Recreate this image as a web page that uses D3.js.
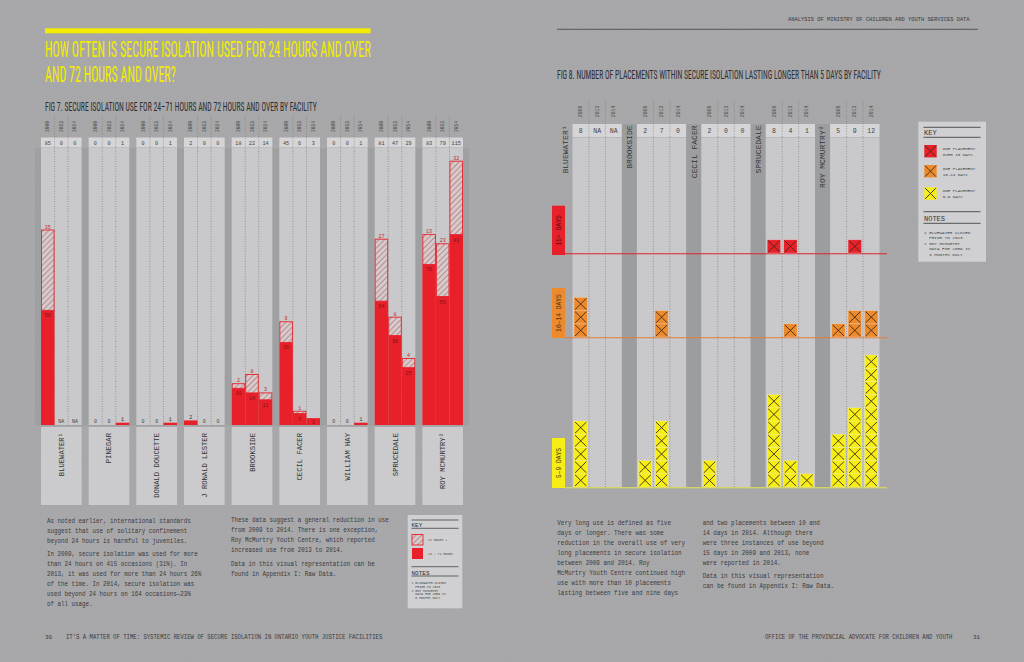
<!DOCTYPE html>
<html><head><meta charset="utf-8">
<script src="https://cdn.jsdelivr.net/npm/d3@7"></script>
<style>html,body{margin:0;padding:0;background:#a6a6a8;}svg{display:block}</style>
</head><body>
<script>
// ---------- DATA ----------
const years = ["2009", "2013", "2014"];
const leftFacilities = ["BLUEWATER¹", "PINEGAR", "DONALD DOUCETTE", "J RONALD LESTER", "BROOKSIDE", "CECIL FACER", "WILLIAM HAY", "SPRUCEDALE", "ROY MCMURTRY²"];
const leftTotals = [["85","0","0"],["0","0","1"],["0","0","1"],["2","0","0"],["18","22","14"],["45","6","3"],["0","0","1"],["81","47","29"],["83","79","115"]];
const hours24to71 = [[50,null,null],[0,0,1],[0,0,1],[2,0,0],[16,14,11],[36,5,3],[0,0,1],[54,39,25],[70,56,83]];
const hours72plus = [[35,null,null],[0,0,0],[0,0,0],[0,0,0],[2,8,3],[9,1,0],[0,0,0],[27,8,4],[13,23,32]];

const rightFacilities = ["BLUEWATER¹", "BROOKSIDE", "CECIL FACER", "SPRUCEDALE", "ROY MCMURTRY²"];
const rightTotals = [["8","NA","NA"],["2","7","0"],["2","0","0"],["8","4","1"],["5","9","12"]];
const over15Days = [[0,0,0],[0,0,0],[0,0,0],[1,1,0],[0,1,0]];
const days10to14 = [[3,0,0],[0,2,0],[0,0,0],[0,1,0],[1,2,2]];
const days5to9 = [[5,0,0],[2,5,0],[2,0,0],[7,2,1],[4,6,10]];

const paraLeft1a = ["As noted earlier, international standards","suggest that use of solitary confinement","beyond 24 hours is harmful to juveniles."];
const paraLeft1b = ["In 2009, secure isolation was used for more","than 24 hours on 415 occasions (31%). In","2013, it was used for more than 24 hours 26%","of the time. In 2014, secure isolation was","used beyond 24 hours on 164 occasions—23%","of all usage."];
const paraLeft2a = ["These data suggest a general reduction in use","from 2009 to 2014. There is one exception,","Roy McMurtry Youth Centre, which reported","increased use from 2013 to 2014."];
const paraLeft2b = ["Data in this visual representation can be","found in Appendix I: Raw Data."];
const paraRight1 = ["Very long use is defined as five","days or longer. There was some","reduction in the overall use of very","long placements in secure isolation","between 2009 and 2014. Roy","McMurtry Youth Centre continued high","use with more than 10 placements","lasting between five and nine days"];
const paraRight2a = ["and two placements between 10 and","14 days in 2014. Although there","were three instances of use beyond","15 days in 2009 and 2013, none","were reported in 2014."];
const paraRight2b = ["Data in this visual representation","can be found in Appendix I: Raw Data."];
const notesLines = ["1 BLUEWATER CLOSED","  PRIOR TO 2013","2 ROY MCMURTRY","  DATA FOR 2009 IS","  8 MONTHS ONLY"];

// ---------- SETUP ----------
const W = 1024, H = 662;
const MONO = "'Liberation Mono','DejaVu Sans Mono',monospace";
const COND = "'Liberation Sans Narrow','Roboto Condensed','DejaVu Sans Condensed','Liberation Sans',sans-serif";
const TXT = "#3a3a3c";
const RED = "#e8202a", ORANGE = "#ee8a2e", YELLOW = "#f6ee14";

const svg = d3.select("body").append("svg").attr("width", W).attr("height", H);
const defs = svg.append("defs");
const f = defs.append("filter").attr("id","noise").attr("x",0).attr("y",0).attr("width","100%").attr("height","100%");
f.append("feTurbulence").attr("type","fractalNoise").attr("baseFrequency",0.8).attr("numOctaves",2).attr("seed",3);
f.append("feColorMatrix").attr("type","matrix").attr("values","0 0 0 0 0.5  0 0 0 0 0.5  0 0 0 0 0.5  0 0 0 0.9 -0.35");
const pat = defs.append("pattern").attr("id","hatch").attr("patternUnits","userSpaceOnUse").attr("width",4).attr("height",4).attr("patternTransform","rotate(45)");
pat.append("rect").attr("width",4).attr("height",4).attr("fill","#d6cacc");
pat.append("line").attr("x1",0).attr("y1",0).attr("x2",0).attr("y2",4).attr("stroke","#a86d70").attr("stroke-width",1.3);

svg.append("rect").attr("width",W).attr("height",H).attr("fill","#a7a7a9");
svg.append("rect").attr("width",W).attr("height",H).attr("filter","url(#noise)").attr("opacity",0.3);

function lines(x, y0, lh, arr, fs, sx, fill, weight) {
  const g = svg.append("g").attr("transform", `translate(${x},0) scale(${sx},1)`);
  g.selectAll(null).data(arr).join("text")
    .attr("x", 0).attr("y", (d, i) => y0 + i * lh)
    .attr("font-family", MONO).attr("font-size", fs).attr("fill", fill || TXT)
    .attr("font-weight", weight || "normal")
    .attr("xml:space","preserve").style("white-space","pre")
    .text(d => d);
}
// fit a line of text to a given width by horizontal scaling
function fitText(x, y, str, len, fs, family, fill) {
  const g = svg.append("g");
  const t = g.append("text").attr("x", 0).attr("y", 0).attr("font-family", family).attr("font-size", fs)
    .attr("fill", fill).text(str);
  const nat = t.node().getComputedTextLength() || len;
  g.attr("transform", `translate(${x},${y}) scale(${len / nat},1)`);
  return t;
}

// ---------- LEFT PAGE ----------
svg.append("rect").attr("x",45).attr("y",28.3).attr("width",325.5).attr("height",5).attr("fill","#f3ec00");
fitText(45, 56.5, "HOW OFTEN IS SECURE ISOLATION USED FOR 24 HOURS AND OVER", 326, 21.5, COND, "#f3ec00");
fitText(45, 81.5, "AND 72 HOURS AND OVER?", 131, 21.5, COND, "#f3ec00");
fitText(45, 110.8, "FIG 7. SECURE ISOLATION USE FOR 24–71 HOURS AND 72 HOURS AND OVER BY FACILITY", 272, 12.5, COND, "#2e2e30");

const xF = d3.scaleBand().domain(leftFacilities).range([41, 463]).paddingInner(0.147);
const xY = d3.scaleBand().domain(years).range([0, xF.bandwidth()]);
const y = d3.scaleLinear().domain([0, 100]).range([425, 425 - 229.4]);

svg.append("rect").attr("x",35).attr("y",148).attr("width",434).attr("height",277.5).attr("fill","#9fa0a2");

leftFacilities.forEach((fac, i) => {
  const g = svg.append("g").attr("transform", `translate(${xF(fac)},0)`);
  const bw = xF.bandwidth();
  g.append("rect").attr("x",0).attr("y",137.5).attr("width",bw).attr("height",10).attr("fill","#d5d5d7");
  g.append("rect").attr("x",0).attr("y",148).attr("width",bw).attr("height",277).attr("fill","#c9c9cb");
  g.append("rect").attr("x",0).attr("y",427).attr("width",bw).attr("height",78).attr("fill","#cbcbcd");
  years.slice(1).forEach(yr => {
    g.append("line").attr("x1",xY(yr)).attr("x2",xY(yr)).attr("y1",116).attr("y2",425)
      .attr("stroke","#7e7e80").attr("stroke-width",0.7).attr("stroke-dasharray","1,1.5");
  });
  years.forEach((yr, j) => {
    const cx = xY(yr) + xY.bandwidth() / 2;
    g.append("text").attr("transform",`translate(${cx+1.6},126.5) rotate(-90)`).attr("text-anchor","middle")
      .attr("font-family",MONO).attr("font-size",4.6).attr("fill","#444").text(yr);
    g.append("text").attr("x",cx).attr("y",144.5).attr("text-anchor","middle")
      .attr("font-family",MONO).attr("font-size",5.2).attr("fill","#444").text(leftTotals[i][j]);
    const r = hours24to71[i][j], h = hours72plus[i][j];
    const x0 = xY(yr), w = xY.bandwidth();
    if (r === null) {
      g.append("text").attr("x",cx).attr("y",423).attr("text-anchor","middle")
        .attr("font-family",MONO).attr("font-size",5).attr("fill","#444").text("NA");
      return;
    }
    if (r > 0) {
      g.append("rect").attr("x",x0).attr("y",y(r)).attr("width",w).attr("height",y(0)-y(r)).attr("fill",RED);
    }
    if (h > 0) {
      g.append("rect").attr("x",x0+0.5).attr("y",y(r+h)).attr("width",w-1).attr("height",y(r)-y(r+h))
        .attr("fill","url(#hatch)").attr("stroke",RED).attr("stroke-width",0.9);
      g.append("text").attr("x",cx).attr("y",y(r+h)-1.5).attr("text-anchor","middle")
        .attr("font-family",MONO).attr("font-size",5).attr("fill","#c0282e").text(h);
    }
    if (r === 0) {
      g.append("text").attr("x",cx).attr("y",423).attr("text-anchor","middle")
        .attr("font-family",MONO).attr("font-size",5).attr("fill","#444").text(0);
    } else if (y(0) - y(r) < 6) {
      g.append("text").attr("x",cx).attr("y",y(r)-1.5).attr("text-anchor","middle")
        .attr("font-family",MONO).attr("font-size",5).attr("fill","#333").text(r);
    } else {
      const hh = y(0) - y(r);
      g.append("text").attr("x",cx).attr("y",y(r)+Math.min(7, hh/2+2)).attr("text-anchor","middle")
        .attr("font-family",MONO).attr("font-size",5).attr("fill","#7a1418").text(r);
    }
  });
  g.append("text").attr("transform",`translate(${bw/2+2.5},433) rotate(-90)`).attr("text-anchor","end")
    .attr("font-family",MONO).attr("font-size",7.2).attr("fill","#333").text(fac);
});

// paragraphs left
lines(47, 523, 9.9, paraLeft1a, 7.5, 0.78);
lines(47, 556.5, 9.9, paraLeft1b, 7.5, 0.78);
lines(231, 522.5, 9.7, paraLeft2a, 7.5, 0.78);
lines(231, 566.5, 9.9, paraLeft2b, 7.5, 0.78);

// left key
function keyBox(x, y0, w, h) {
  svg.append("rect").attr("x",x).attr("y",y0).attr("width",w).attr("height",h).attr("fill","#d0d0d2");
}
keyBox(407.7, 515, 54.6, 93.3);
[520, 528.3, 566.7, 576].forEach(yy => svg.append("line").attr("x1",411.5).attr("x2",458.5).attr("y1",yy).attr("y2",yy).attr("stroke","#444").attr("stroke-width",0.8));
svg.append("text").attr("x",411.5).attr("y",526.5).attr("font-family",MONO).attr("font-size",6).attr("fill","#333").text("KEY");
svg.append("text").attr("x",411.5).attr("y",574.5).attr("font-family",MONO).attr("font-size",6).attr("fill","#333").text("NOTES");
svg.append("rect").attr("x",412).attr("y",534.5).attr("width",11).attr("height",10.5).attr("fill","url(#hatch)").attr("stroke",RED).attr("stroke-width",0.9);
svg.append("rect").attr("x",412).attr("y",548).attr("width",11).attr("height",11).attr("fill",RED);
svg.append("text").attr("x",428).attr("y",540.5).attr("font-family",MONO).attr("font-size",3.2).attr("fill","#444").text("72 HOURS +");
svg.append("text").attr("x",428).attr("y",554.5).attr("font-family",MONO).attr("font-size",3.2).attr("fill","#444").text("24 - 71 HOURS");
lines(411.5, 584, 3.8, notesLines, 3.2, 1, "#444");

// footer left
svg.append("text").attr("x",45).attr("y",638.5).attr("font-family",MONO).attr("font-size",6).attr("fill",TXT).text("30");
fitText(66, 638.5, "IT'S A MATTER OF TIME: SYSTEMIC REVIEW OF SECURE ISOLATION IN ONTARIO YOUTH JUSTICE FACILITIES", 317, 6.5, MONO, TXT);

// ---------- RIGHT PAGE ----------
fitText(788, 21, "ANALYSIS OF MINISTRY OF CHILDREN AND YOUTH SERVICES DATA", 182, 6, MONO, TXT);
svg.append("line").attr("x1",557).attr("x2",978).attr("y1",29.3).attr("y2",29.3).attr("stroke","#555").attr("stroke-width",1);
fitText(557, 78.5, "FIG 8. NUMBER OF PLACEMENTS WITHIN SECURE ISOLATION LASTING LONGER THAN 5 DAYS BY FACILITY", 324, 13, COND, "#2e2e30");

const xR = d3.scaleBand().domain(rightFacilities).range([557.5, 879.5]);
const stripeW = 15;
const panelW = xR.bandwidth() - stripeW;
const xRY = d3.scaleBand().domain(years).range([0, panelW]);
const rows = [
  {name: "15+ DAYS", data: over15Days, base: 253, color: RED, line: "#d9252d", box: [205.7, 255]},
  {name: "10–14 DAYS", data: days10to14, base: 337, color: ORANGE, line: "#e27c35", box: [288, 338]},
  {name: "5–9 DAYS", data: days5to9, base: 487, color: YELLOW, line: "#e7e24c", box: [438, 488]}
];

rightFacilities.forEach((fac, i) => {
  const px = xR(fac) + stripeW;
  if (i > 0) svg.append("rect").attr("x",xR(fac)).attr("y",124).attr("width",stripeW).attr("height",363).attr("fill","#9c9d9f");
  const g = svg.append("g").attr("transform",`translate(${px},0)`);
  g.append("rect").attr("x",0).attr("y",124).attr("width",panelW).attr("height",13).attr("fill","#d5d5d7");
  g.append("rect").attr("x",0).attr("y",137.5).attr("width",panelW).attr("height",349.5).attr("fill","#c9c9cb");
  years.slice(1).forEach(yr => {
    g.append("line").attr("x1",xRY(yr)).attr("x2",xRY(yr)).attr("y1",101).attr("y2",487)
      .attr("stroke","#7e7e80").attr("stroke-width",0.7).attr("stroke-dasharray","1,1.5");
  });
  years.forEach((yr, j) => {
    const cx = xRY(yr) + xRY.bandwidth() / 2;
    g.append("text").attr("transform",`translate(${cx+1.6},111.5) rotate(-90)`).attr("text-anchor","middle")
      .attr("font-family",MONO).attr("font-size",4.8).attr("fill","#444").text(yr);
    g.append("text").attr("x",cx).attr("y",133).attr("text-anchor","middle")
      .attr("font-family",MONO).attr("font-size",6.5).attr("fill","#444").text(rightTotals[i][j]);
  });
  svg.append("text").attr("transform",`translate(${xR(fac)+stripeW/2+2.8},125.5) rotate(-90)`).attr("text-anchor","end")
    .attr("font-family",MONO).attr("font-size",8).attr("fill","#333").text(fac);
});

// row lines and labels
rows.forEach(r => {
  svg.append("line").attr("x1",565).attr("x2",887).attr("y1",r.base+0.7).attr("y2",r.base+0.7).attr("stroke",r.line).attr("stroke-width",1.1);
  svg.append("rect").attr("x",552).attr("y",r.box[0]).attr("width",13).attr("height",r.box[1]-r.box[0]).attr("fill",r.color);
  svg.append("text").attr("transform",`translate(${552+6.5+2.2},${(r.box[0]+r.box[1])/2}) rotate(-90)`).attr("text-anchor","middle")
    .attr("font-family",MONO).attr("font-size",6.3).attr("fill", r.color === RED ? "#5a0d10" : "#4a3a10").text(r.name);
});

// markers
const sq = 13.2;
rows.forEach(r => {
  const ys = d3.scaleLinear().domain([0, 1]).range([r.base, r.base - sq]);
  rightFacilities.forEach((fac, i) => {
    years.forEach((yr, j) => {
      const n = r.data[i][j];
      const x0 = xR(fac) + stripeW + xRY(yr) + (xRY.bandwidth() - 13.4) / 2;
      d3.range(n).forEach(k => {
        const top = ys(k + 1), bot = ys(k);
        svg.append("rect").attr("x",x0).attr("y",top).attr("width",13.4).attr("height",bot-top)
          .attr("fill",r.color).attr("stroke","rgba(255,255,255,0.35)").attr("stroke-width",0.6);
        svg.append("path").attr("d",`M${x0+1},${top+1}L${x0+12.4},${bot-1}M${x0+12.4},${top+1}L${x0+1},${bot-1}`)
          .attr("stroke","#3b2a1c").attr("stroke-width",0.9).attr("fill","none");
      });
    });
  });
});

// right key
keyBox(918.3, 121.7, 67.7, 140);
[127.3, 137.3, 211.7, 223.3].forEach(yy => svg.append("line").attr("x1",923.5).attr("x2",980.5).attr("y1",yy).attr("y2",yy).attr("stroke","#444").attr("stroke-width",0.9));
svg.append("text").attr("x",924).attr("y",135).attr("font-family",MONO).attr("font-size",7).attr("fill","#333").text("KEY");
svg.append("text").attr("x",924).attr("y",221).attr("font-family",MONO).attr("font-size",7).attr("fill","#333").text("NOTES");
const keyItems = [
  {c: RED, y: 145, t: ["ONE PLACEMENT","OVER 15 DAYS"]},
  {c: ORANGE, y: 165, t: ["ONE PLACEMENT","10–14 DAYS"]},
  {c: YELLOW, y: 187.3, t: ["ONE PLACEMENT","5–9 DAYS"]}
];
keyItems.forEach(k => {
  svg.append("rect").attr("x",924.3).attr("y",k.y).attr("width",12.4).attr("height",12.4).attr("fill",k.c);
  svg.append("path").attr("d",`M${925},${k.y+0.7}L${936},${k.y+11.7}M${936},${k.y+0.7}L${925},${k.y+11.7}`).attr("stroke","#3b2a1c").attr("stroke-width",0.9);
  lines(942.7, k.y + 5, 5.5, k.t, 4.2, 1, "#444");
});
lines(924, 234, 5.4, notesLines, 4.3, 1, "#444");

// paragraphs right
lines(557.3, 525, 10, paraRight1, 7.5, 0.79);
lines(702.7, 525, 10, paraRight2a, 7.5, 0.79);
lines(702.7, 578.5, 10, paraRight2b, 7.5, 0.79);

// footer right
fitText(765, 639, "OFFICE OF THE PROVINCIAL ADVOCATE FOR CHILDREN AND YOUTH", 188, 6.5, MONO, TXT);
svg.append("text").attr("x",973).attr("y",639).attr("font-family",MONO).attr("font-size",6).attr("fill",TXT).text("31");
</script>
</body></html>
